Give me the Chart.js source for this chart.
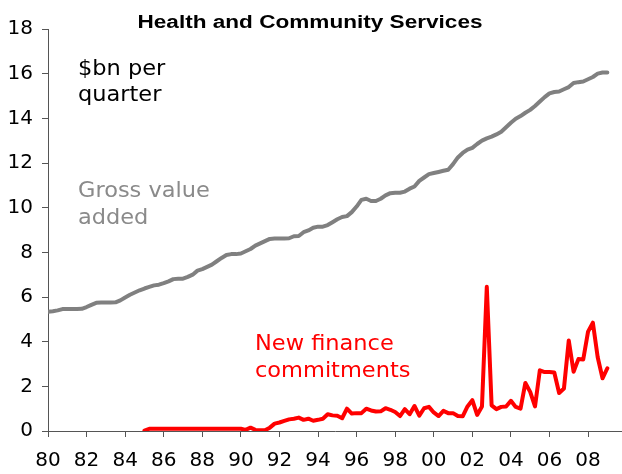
<!DOCTYPE html>
<html>
<head>
<meta charset="utf-8">
<script src="https://cdn.jsdelivr.net/npm/chart.js@4.4.1/dist/chart.umd.min.js"></script>
<style>
  html, body { margin: 0; padding: 0; background: #fff; }
  #wrap { width: 622px; height: 474px; position: relative; }
</style>
</head>
<body>
<div id="wrap"><canvas id="chart"></canvas></div>
<script>
// quarterly, first value is March quarter of the start year
const gvaStart = 1980;
const gvaValues = [
  5.34, 5.36, 5.40, 5.46, 5.46, 5.46, 5.46, 5.47,
  5.55, 5.65, 5.74, 5.75, 5.75, 5.75, 5.76, 5.85,
  5.98, 6.10, 6.20, 6.30, 6.38, 6.45, 6.52, 6.55,
  6.62, 6.70, 6.80, 6.82, 6.82, 6.90, 7.00, 7.18,
  7.25, 7.35, 7.45, 7.60, 7.75, 7.88, 7.92, 7.92,
  7.95, 8.05, 8.15, 8.30, 8.40, 8.50, 8.60, 8.62,
  8.62, 8.62, 8.63, 8.72, 8.73, 8.90, 8.98, 9.10,
  9.15, 9.15, 9.22, 9.35, 9.48, 9.58, 9.62, 9.80,
  10.05, 10.35, 10.40, 10.30, 10.30, 10.40, 10.55, 10.65,
  10.67, 10.67, 10.72, 10.85, 10.95, 11.20, 11.35, 11.50,
  11.55, 11.60, 11.65, 11.70, 11.95, 12.25, 12.45, 12.60,
  12.68, 12.85, 13.00, 13.10, 13.18, 13.28, 13.40, 13.60,
  13.80, 13.98, 14.10, 14.25, 14.38, 14.55, 14.75, 14.95,
  15.12, 15.18, 15.20, 15.30, 15.40, 15.58, 15.62, 15.65,
  15.75, 15.85, 16.00, 16.05, 16.05
];

const financeStart = 1985;
const financeValues = [
  0.02, 0.10, 0.10, 0.10, 0.10, 0.10, 0.10, 0.10,
  0.10, 0.10, 0.10, 0.10, 0.10, 0.10, 0.10, 0.10,
  0.10, 0.10, 0.10, 0.10, 0.10, 0.05, 0.15, 0.05,
  0.03, 0.03, 0.15, 0.33, 0.38, 0.45, 0.52, 0.55,
  0.60, 0.50, 0.55, 0.46, 0.50, 0.55, 0.75, 0.70,
  0.68, 0.57, 1.00, 0.78, 0.80, 0.80, 1.00, 0.92,
  0.87, 0.88, 1.02, 0.95, 0.85, 0.67, 0.98, 0.75,
  1.12, 0.69, 1.02, 1.08, 0.83, 0.67, 0.90, 0.80,
  0.80, 0.67, 0.66, 1.10, 1.38, 0.72, 1.10, 6.46,
  1.15, 0.98, 1.08, 1.10, 1.35, 1.08, 1.00, 2.15,
  1.75, 1.10, 2.72, 2.64, 2.64, 2.62, 1.70, 1.90,
  4.05, 2.65, 3.22, 3.20, 4.45, 4.85, 3.30, 2.36,
  2.81
];

const tickLabels = ['80', '82', '84', '86', '88', '90', '92', '94',
                    '96', '98', '00', '02', '04', '06', '08'];

const toPoints = (start, vals) => vals.map((v, i) => ({ x: start + i / 4, y: v }));

const notes = [
  { lines: ['$bn per', 'quarter'], color: '#000000', x: 78, y: 75, lh: 26 },
  { lines: ['Gross value', 'added'], color: '#8a8a8a', x: 78, y: 197, lh: 27 },
  { lines: ['New finance', 'commitments'], color: '#ff0000', x: 255, y: 350, lh: 27 }
];

const textPlugin = {
  id: 'notes',
  afterDraw(chart) {
    const ctx = chart.ctx;
    ctx.save();
    // title, stretched to the width of the original
    const title = 'Health and Community Services';
    ctx.font = 'bold 18px "Liberation Sans"';
    ctx.fillStyle = '#000';
    ctx.textBaseline = 'alphabetic';
    const w = ctx.measureText(title).width;
    ctx.save();
    ctx.translate(310 - 345 / 2, 28);
    ctx.scale(345 / w, 1);
    ctx.fillText(title, 0, 0);
    ctx.restore();

    ctx.font = '21px "DejaVu Sans"';
    notes.forEach(n => {
      ctx.fillStyle = n.color;
      n.lines.forEach((t, i) => {
        ctx.save();
        ctx.translate(n.x, n.y + i * n.lh);
        ctx.scale(1.07, 1);
        ctx.fillText(t, 0, 0);
        ctx.restore();
      });
    });
    ctx.restore();
  }
};

new Chart(document.getElementById('chart'), {
  type: 'line',
  data: {
    datasets: [
      {
        label: 'Gross value added',
        data: toPoints(gvaStart, gvaValues),
        borderColor: '#808080',
        borderWidth: 4,
        pointRadius: 0,
        tension: 0,
        borderJoinStyle: 'round',
        borderCapStyle: 'round'
      },
      {
        label: 'New finance commitments',
        data: toPoints(financeStart, financeValues),
        borderColor: '#ff0000',
        borderWidth: 4,
        pointRadius: 0,
        tension: 0,
        borderJoinStyle: 'round',
        borderCapStyle: 'round'
      }
    ]
  },
  options: {
    responsive: true,
    maintainAspectRatio: false,
    animation: false,
    events: [],
    layout: { padding: { top: 29, right: 0, left: 0, bottom: 0 } },
    plugins: {
      legend: { display: false },
      tooltip: { enabled: false },
      title: { display: false }
    },
    scales: {
      x: {
        type: 'linear',
        min: 1980,
        max: 2009.76,
        afterFit: s => { s.height = 43; },
        grid: { drawOnChartArea: false, tickLength: 6, color: '#555' },
        border: { color: '#555', width: 1 },
        ticks: {
          stepSize: 2,
          includeBounds: false,
          autoSkip: false,
          maxRotation: 0,
          padding: 12,
          color: '#000',
          font: { family: 'DejaVu Sans', size: 20 },
          callback: v => tickLabels[(v - 1980) / 2]
        }
      },
      y: {
        min: 0,
        max: 18,
        afterFit: s => { s.width = 48; },
        grid: { drawOnChartArea: false, tickLength: 6, color: '#555' },
        border: { color: '#555', width: 1 },
        ticks: {
          stepSize: 2,
          padding: 9,
          color: '#000',
          font: { family: 'DejaVu Sans', size: 20 }
        }
      }
    }
  },
  plugins: [textPlugin]
});
</script>
</body>
</html>
